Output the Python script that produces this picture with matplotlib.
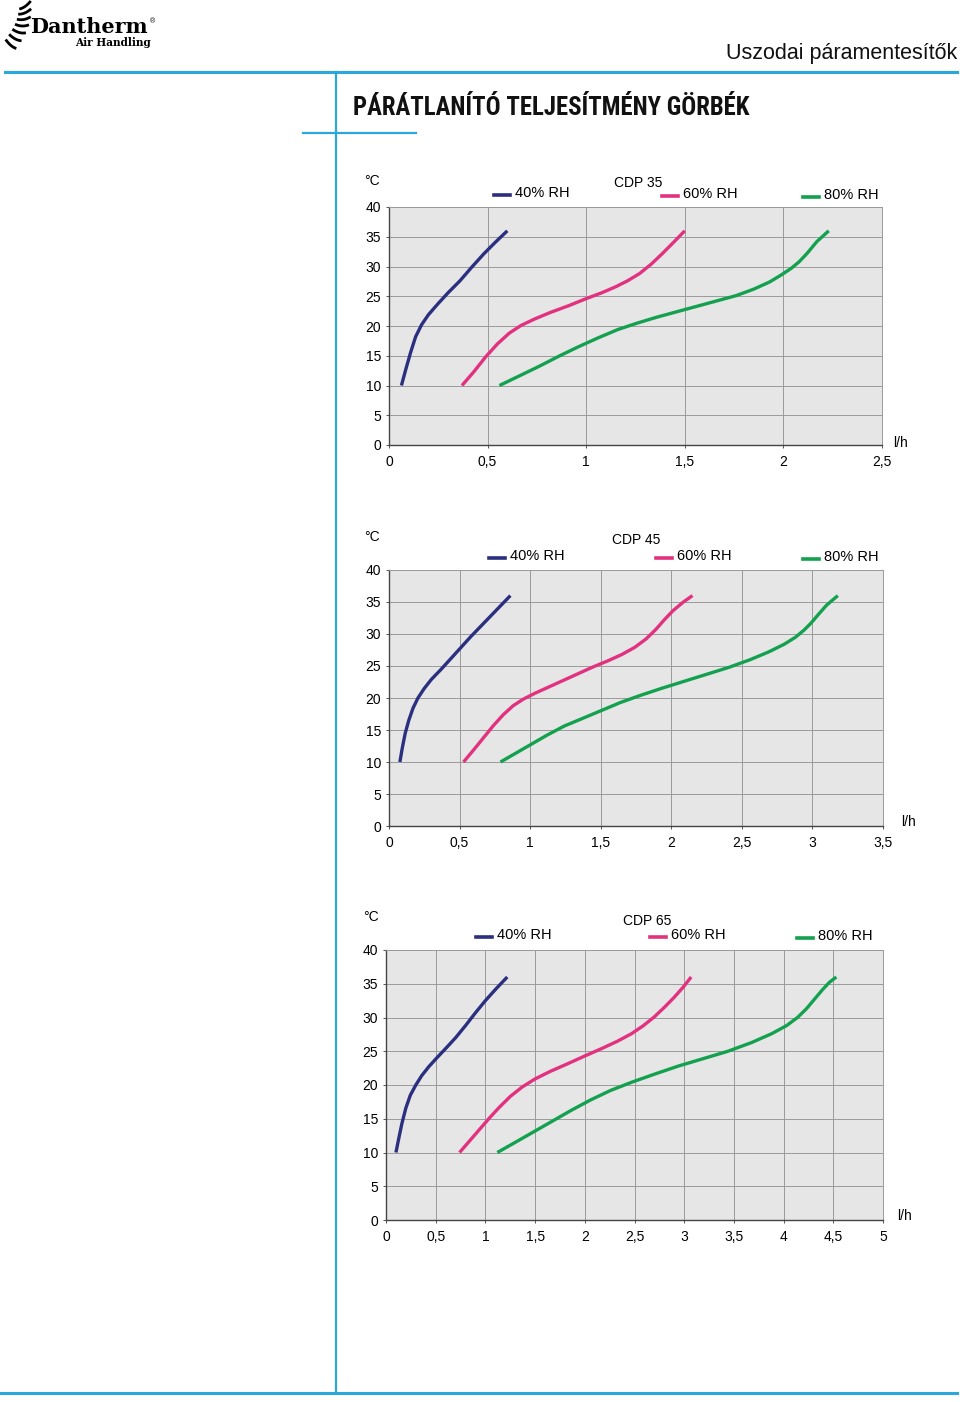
import numpy as np
import matplotlib.pyplot as plt
from matplotlib.lines import Line2D
from matplotlib import font_manager
from matplotlib.font_manager import FontProperties

# CDP 35 curves (x = l/h, y = deg C)
cdp35_x40 = [0.063, 0.085, 0.11, 0.135, 0.165, 0.20, 0.25, 0.30, 0.36, 0.42, 0.48, 0.54, 0.60]
cdp35_y40 = [10, 12.7, 15.6, 18.2, 20.2, 21.9, 23.8, 25.6, 27.6, 29.9, 32.1, 34.1, 36]
cdp35_x60 = [0.37, 0.43, 0.49, 0.55, 0.61, 0.67, 0.74, 0.82, 0.91, 1.0, 1.08, 1.15, 1.21,
             1.27, 1.33, 1.39, 1.45, 1.50]
cdp35_y60 = [10, 12.3, 14.8, 17.0, 18.8, 20.1, 21.2, 22.3, 23.4, 24.6, 25.6, 26.6, 27.6,
             28.8, 30.4, 32.3, 34.3, 36]
cdp35_x80 = [0.56, 0.66, 0.76, 0.86, 0.96, 1.06, 1.16, 1.26, 1.36, 1.46, 1.56, 1.66, 1.76,
             1.85, 1.93, 1.99, 2.04, 2.08, 2.12, 2.17, 2.23]
cdp35_y80 = [10, 11.6, 13.2, 14.9, 16.5, 18.0, 19.4, 20.5, 21.5, 22.4, 23.3, 24.2, 25.1,
             26.2, 27.4, 28.6, 29.7, 30.8, 32.2, 34.2, 36]

# CDP 45 curves
cdp45_x40 = [0.077, 0.095, 0.115, 0.14, 0.17, 0.205, 0.25, 0.30, 0.37, 0.44, 0.51, 0.58,
             0.65, 0.72, 0.79, 0.86]
cdp45_y40 = [10, 12.3, 14.5, 16.5, 18.4, 20.0, 21.5, 22.9, 24.5, 26.2, 27.9, 29.6,
             31.2, 32.8, 34.4, 36]
cdp45_x60 = [0.528, 0.60, 0.67, 0.74, 0.81, 0.88, 0.95, 1.03, 1.12, 1.22, 1.33, 1.44, 1.55,
             1.65, 1.74, 1.82, 1.89, 1.95, 2.01, 2.08, 2.15]
cdp45_y60 = [10, 11.9, 13.8, 15.7, 17.4, 18.8, 19.8, 20.7, 21.6, 22.6, 23.7, 24.8, 25.8,
             26.8, 27.9, 29.2, 30.7, 32.2, 33.6, 34.9, 36]
cdp45_x80 = [0.79, 0.90, 1.01, 1.12, 1.24, 1.37, 1.50, 1.64, 1.78, 1.93, 2.09, 2.25, 2.41,
             2.56, 2.69, 2.80, 2.88, 2.94, 2.99, 3.04, 3.10, 3.18]
cdp45_y80 = [10, 11.4, 12.8, 14.2, 15.6, 16.8, 18.0, 19.3, 20.4, 21.5, 22.6, 23.7, 24.8,
             26.0, 27.2, 28.4, 29.5, 30.6, 31.7, 33.0, 34.5, 36]

# CDP 65 curves
cdp65_x40 = [0.10, 0.13, 0.16, 0.20, 0.245, 0.30, 0.36, 0.43, 0.51, 0.60, 0.70, 0.80,
             0.90, 1.0, 1.11, 1.22]
cdp65_y40 = [10, 12.2, 14.3, 16.6, 18.5, 20.0, 21.4, 22.7, 24.0, 25.4, 27.0, 28.8,
             30.7, 32.5, 34.3, 36]
cdp65_x60 = [0.74, 0.84, 0.94, 1.04, 1.14, 1.25, 1.37, 1.50, 1.65, 1.82, 2.0, 2.17, 2.33,
             2.47, 2.59, 2.70, 2.80, 2.90, 2.99, 3.07]
cdp65_y60 = [10, 11.7, 13.4, 15.1, 16.7, 18.3, 19.7, 20.9, 22.0, 23.1, 24.3, 25.4, 26.5,
             27.6, 28.8, 30.1, 31.5, 33.0, 34.5, 36]
cdp65_x80 = [1.12, 1.30, 1.49, 1.68, 1.87, 2.06, 2.26, 2.47, 2.70, 2.94, 3.19, 3.44, 3.68,
             3.88, 4.03, 4.14, 4.23, 4.31, 4.39, 4.46, 4.53]
cdp65_y80 = [10, 11.5, 13.1, 14.7, 16.3, 17.8, 19.2, 20.4, 21.6, 22.8, 23.9, 25.0, 26.3,
             27.6, 28.8, 30.0, 31.3, 32.7, 34.1, 35.2, 36]

series_labels = ["40% RH", "60% RH", "80% RH"]
colors = ["#2b2f7f", "#e2327f", "#13a14f"]

W, H = 960, 1402
BLUE = "#2aa8dc"

def fx(x):
    return x / W

def fy(y):
    return 1 - y / H

# pick a condensed bold face for the main title (Arial Narrow look)
prefs = ["Liberation Sans Narrow", "Roboto Condensed", "Roboto", "Noto Sans", "Open Sans",
         "DejaVu Sans", "Lato", "Inter"]
best, best_score = None, None
for f in font_manager.fontManager.ttflist:
    st = str(f.stretch)
    narrow = "Narrow" in f.name or "Condensed" in f.name or "condensed" in st
    if not narrow or f.weight not in ("bold", 700, "700") or "italic" in f.style:
        continue
    fam = 0
    for i, p in enumerate(prefs):
        if f.name.startswith(p):
            fam = i
            break
    else:
        fam = len(prefs)
    score = (0 if st in ("condensed", "normal") else 1, fam)
    if best_score is None or score < best_score:
        best, best_score = f, score
if best is not None:
    title_font = FontProperties(fname=best.fname, size=18)
else:
    title_font = FontProperties(family="Liberation Sans", weight="bold", size=18)

plt.rcParams['font.family'] = ['Liberation Sans', 'DejaVu Sans']

fig = plt.figure(figsize=(W / 100, H / 100), dpi=100, facecolor="white")
renderer = fig.canvas.get_renderer()

# page decoration lines
def hline(y, x0, x1, lw=2.2):
    fig.add_artist(Line2D([fx(x0), fx(x1)], [fy(y), fy(y)], color=BLUE, lw=lw))

hline(72, 5, 957)
hline(133, 303, 416, lw=1.6)
hline(1393, 0, 957)
fig.add_artist(Line2D([fx(336), fx(336)], [fy(72), fy(1393)], color=BLUE, lw=1.6))

# logo swoosh
for k in range(7):
    t = k / 6
    yc = 5 + 39 * t
    xc = 25 - 14 * t + 4 * np.sin(np.pi * t)
    ang = np.radians(35 - 75 * t)
    dx, dy = 7 * np.cos(ang), 7 * np.sin(ang)
    s = np.linspace(-1, 1, 12)
    xs = xc + dx * s
    ys = yc - dy * s + 1.5 * (1 - s ** 2)
    fig.add_artist(Line2D(fx(xs), fy(ys), color="black", lw=2.0, solid_capstyle="butt"))
logo = fig.text(fx(30), fy(27), "Dantherm", family="DejaVu Serif", weight="heavy",
                fontsize=14, va="center", ha="left")
lw_ = logo.get_window_extent(renderer).width
logo.set_fontsize(14 * 118 / lw_)
fig.text(fx(150), fy(22), "®", fontsize=5, va="center", ha="left")
fig.text(fx(151), fy(43), "Air Handling", family="DejaVu Serif", weight="bold",
         fontsize=7.6, va="center", ha="right")

fig.text(fx(957), fy(54), "Uszodai páramentesítők", fontsize=15.5, ha="right", va="center",
         color="#111111")
title = fig.text(fx(353), fy(108), "PÁRÁTLANÍTÓ TELJESÍTMÉNY GÖRBÉK", fontproperties=title_font,
                 ha="left", va="center", color="#111111")
# fit the title to its width in the reference (about 397 px)
tw = title.get_window_extent(renderer).width
title.set_fontsize(min(20, 18 * 397 / tw))


def draw_chart(box, xmax, xs, ys, title, title_pos, legend_pos, unit_pos, deg_pos):
    left, right, top, bottom = box
    ax = fig.add_axes([fx(left), fy(bottom), (right - left) / W, (bottom - top) / H])
    ax.set_facecolor("#e6e6e6")
    for x, y, c in zip(xs, ys, colors):
        ax.plot(x, y, color=c, lw=2.4, solid_capstyle="butt", solid_joinstyle="round")
    ax.set_xlim(0, xmax)
    ax.set_ylim(0, 40)
    xt = np.arange(0, xmax + 0.01, 0.5)
    ax.set_xticks(xt)
    ax.set_xticklabels([("%g" % v).replace(".", ",") for v in xt])
    ax.set_yticks(range(0, 41, 5))
    ax.grid(True, color="#9a9a9a", lw=0.7)
    ax.set_axisbelow(True)
    ax.tick_params(labelsize=10, length=2.5, width=0.7, color="#555555", pad=3)
    ax.tick_params(axis="x", pad=5)
    for s in ["top", "right"]:
        ax.spines[s].set_color("#9a9a9a")
        ax.spines[s].set_linewidth(0.7)
    for s in ["left", "bottom"]:
        ax.spines[s].set_color("#444444")
        ax.spines[s].set_linewidth(1.0)
    fig.text(fx(title_pos[0]), fy(title_pos[1]), title, fontsize=10, ha="left", va="center")
    fig.text(fx(unit_pos[0]), fy(unit_pos[1]), "l/h", fontsize=10, ha="center", va="center")
    fig.text(fx(deg_pos[0]), fy(deg_pos[1]), "°C", fontsize=10, ha="center", va="center")
    for (lx, ly), lab, c in zip(legend_pos, series_labels, colors):
        fig.add_artist(Line2D([fx(lx), fx(lx + 16)], [fy(ly + 2), fy(ly + 2)], color=c, lw=2.6))
        fig.text(fx(lx + 21), fy(ly), lab, fontsize=10.5, ha="left", va="center")
    return ax


draw_chart((389, 882, 207, 445), 2.5,
           [cdp35_x40, cdp35_x60, cdp35_x80], [cdp35_y40, cdp35_y60, cdp35_y80],
           "CDP 35", (614, 183), [(494, 193), (662, 194), (803, 195)], (901, 443), (372, 181))
draw_chart((389, 883, 570, 826), 3.5,
           [cdp45_x40, cdp45_x60, cdp45_x80], [cdp45_y40, cdp45_y60, cdp45_y80],
           "CDP 45", (612, 540), [(489, 556), (656, 556), (803, 557)], (908, 822), (372, 537))
draw_chart((386, 883, 950, 1220), 5,
           [cdp65_x40, cdp65_x60, cdp65_x80], [cdp65_y40, cdp65_y60, cdp65_y80],
           "CDP 65", (623, 921), [(476, 935), (650, 935), (797, 936)], (905, 1216), (371, 917))

fig.savefig("out.png", dpi=100, facecolor="white")
